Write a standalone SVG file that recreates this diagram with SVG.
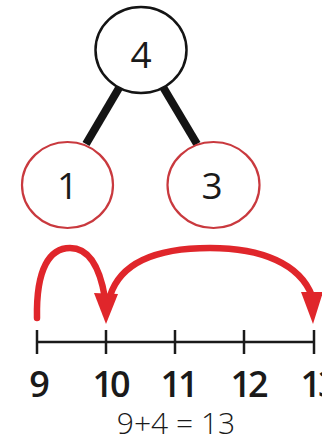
<svg xmlns="http://www.w3.org/2000/svg" width="322" height="438" viewBox="0 0 322 438">
  <defs>
    <style>
      .bond { stroke: #141414; stroke-width: 8; stroke-linecap: butt; }
      .whole { fill: #ffffff; stroke: #141414; stroke-width: 2.5; }
      .part { fill: #ffffff; stroke: #c9393e; stroke-width: 2.2; }
      .num { font-family: "Open Sans", "Liberation Sans", sans-serif; font-size: 37px; fill: #1a1a1a; text-anchor: middle; }
      .axis { stroke: #1a1a1a; stroke-width: 2.5; fill: none; }
      .lbl { font-family: "Open Sans", "Liberation Sans", sans-serif; font-size: 36px; font-weight: 600; fill: #1a1a1a; text-anchor: middle; letter-spacing: -3px; }
      .eq { font-family: "Open Sans", "Liberation Sans", sans-serif; font-size: 30px; font-weight: 300; fill: #1a1a1a; text-anchor: middle; }
      .jump { stroke: #e0262b; stroke-width: 6.5; fill: none; stroke-linecap: round; }
      .head { fill: #e0262b; }
    </style>
  </defs>
  <rect width="322" height="438" fill="#ffffff"/>

  <!-- bonds between the whole and its parts -->
  <g id="connectors">
    <line class="bond" x1="119" y1="88" x2="86" y2="144"/>
    <line class="bond" x1="163" y1="87" x2="197" y2="144"/>
  </g>

  <g id="node-whole">
    <ellipse class="whole" cx="141" cy="50" rx="45.5" ry="43"/>
    <text class="num" x="141" y="68">4</text>
  </g>
  <g id="node-part-1">
    <ellipse class="part" cx="67.5" cy="185" rx="45.5" ry="43"/>
    <text class="num" x="67.5" y="199">1</text>
  </g>
  <g id="node-part-3">
    <ellipse class="part" cx="213.5" cy="185" rx="46" ry="43"/>
    <text class="num" x="212" y="199">3</text>
  </g>

  <!-- number line -->
  <g id="number-line">
    <line class="axis" x1="37" y1="342" x2="314" y2="342"/>
    <line class="axis" x1="37" y1="330" x2="37" y2="354"/>
    <line class="axis" x1="106" y1="330" x2="106" y2="354"/>
    <line class="axis" x1="175" y1="330" x2="175" y2="354"/>
    <line class="axis" x1="244" y1="330" x2="244" y2="354"/>
    <line class="axis" x1="314" y1="330" x2="314" y2="354"/>
    <text class="lbl" x="38" y="397">9</text>
    <text class="lbl" x="110" y="397">10</text>
    <text class="lbl" x="178" y="397">11</text>
    <text class="lbl" x="248" y="397">12</text>
    <text class="lbl" x="318" y="397">13</text>
  </g>

  <!-- jumps along the line -->
  <g id="jumps">
    <path class="jump" d="M37,318 C36,268 50,248 70,248 C90,248 100,268 105,298"/>
    <polygon class="head" points="94,293 118,294 106,324"/>
    <path class="jump" d="M110,296 C122,258 165,248 210,248 C262,248 300,264 312,296"/>
    <polygon class="head" points="301,292 323,292 313,324"/>
  </g>

  <text class="eq" x="176" y="434">9+4 = 13</text>
</svg>
